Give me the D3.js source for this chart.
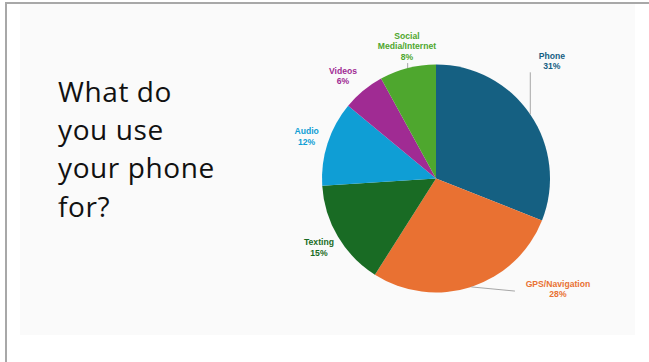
<!DOCTYPE html>
<html>
<head>
<meta charset="utf-8">
<script src="https://cdn.jsdelivr.net/npm/d3@7"></script>
<style>
  html, body { margin: 0; padding: 0; background: #ffffff; }
  svg { display: block; }
</style>
</head>
<body>
<svg id="chart"></svg>
<script>
'use strict';
// chart data
var categories = ['Phone', 'GPS/Navigation', 'Texting', 'Audio', 'Videos', 'Social Media/Internet'];
var values = [31, 28, 15, 12, 6, 8];
var labelLines = [['Phone'], ['GPS/Navigation'], ['Texting'], ['Audio'], ['Videos'], ['Social', 'Media/Internet']];
var titleLines = ['What do', 'you use', 'your phone', 'for?'];

var colors = ['#156082', '#e97132', '#196b24', '#0f9ed5', '#a02b93', '#4ea72e'];

var canvasWidth = 649;
var canvasHeight = 362;
var svg = d3.select('#chart')
    .attr('width', canvasWidth)
    .attr('height', canvasHeight);

// slide frame
svg.append('rect')
    .attr('x', 20).attr('y', 4)
    .attr('width', 615).attr('height', 331)
    .attr('fill', '#fafafa');
svg.append('line')
    .attr('x1', 6).attr('y1', 3).attr('x2', 649).attr('y2', 3)
    .attr('stroke', '#a8a8a8').attr('stroke-width', 2);
svg.append('line')
    .attr('x1', 6).attr('y1', 2).attr('x2', 6).attr('y2', 362)
    .attr('stroke', '#a8a8a8').attr('stroke-width', 2);

// title
var title = svg.append('text')
    .attr('x', 58)
    .attr('font-family', '"Open Sans", sans-serif')
    .attr('font-size', 28)
    .attr('letter-spacing', 0.6)
    .attr('fill', '#111111');
title.selectAll('tspan')
    .data(titleLines)
    .enter()
    .append('tspan')
    .attr('x', 58)
    .attr('y', function (d, i) { return 102 + i * 38.2; })
    .text(function (d) { return d; });

// pie
var cx = 436, cy = 178.5, radius = 114;
var pieArea = svg.append('g')
    .attr('transform', 'translate(' + cx + ',' + cy + ')');

var pie = d3.pie().sort(null).value(function (d) { return d; });
var arcs = pie(values);
var arc = d3.arc().innerRadius(0).outerRadius(radius);

pieArea.selectAll('path')
    .data(arcs)
    .enter()
    .append('path')
    .attr('d', arc)
    .attr('fill', function (d, i) { return colors[i]; });

// label placement (degrees clockwise from top, distance from centre)
var deg = Math.PI / 180;
var placement = {
    0: {angle: 44.6, r: 165, leader: 'v'},
    1: {angle: 132.2, r: 164.6, leader: 'h'},
    4: {angle: -42.2, r: 138.5},
    5: {angle: -12.4, r: 135.2, leader: 'v'}
};

function polar(angle, r) {
    return [Math.sin(angle) * r, -Math.cos(angle) * r];
}

arcs.forEach(function (d, i) {
    var mid = (d.startAngle + d.endAngle) / 2;
    var p = placement[i] || {};
    var a = p.angle !== undefined ? p.angle * deg : mid;
    var r = p.r || 136;
    var pos = polar(a, r);
    var lines = labelLines[i].concat([values[i] + '%']);
    var lineH = 10.6;
    var top = pos[1] - (lines.length - 1) * lineH / 2;

    if (p.leader) {
        var start = polar(mid, radius);
        var end;
        if (p.leader === 'v') {
            end = [start[0], pos[1] + (lines.length - 1) * lineH / 2 + 6];
        } else {
            end = [pos[0] - 43, pos[1] + 2];
        }
        pieArea.append('line')
            .attr('x1', start[0]).attr('y1', start[1])
            .attr('x2', end[0]).attr('y2', end[1])
            .attr('stroke', '#a6a6a6')
            .attr('stroke-width', 1);
    }

    var t = pieArea.append('text')
        .attr('text-anchor', 'middle')
        .attr('font-family', '"Liberation Sans", Arial, sans-serif')
        .attr('font-weight', 'bold')
        .attr('font-size', 8.6)
        .attr('fill', colors[i]);
    t.selectAll('tspan')
        .data(lines)
        .enter()
        .append('tspan')
        .attr('x', pos[0])
        .attr('y', function (l, j) { return top + j * lineH + 3; })
        .text(function (l) { return l; });
});
</script>
</body>
</html>
